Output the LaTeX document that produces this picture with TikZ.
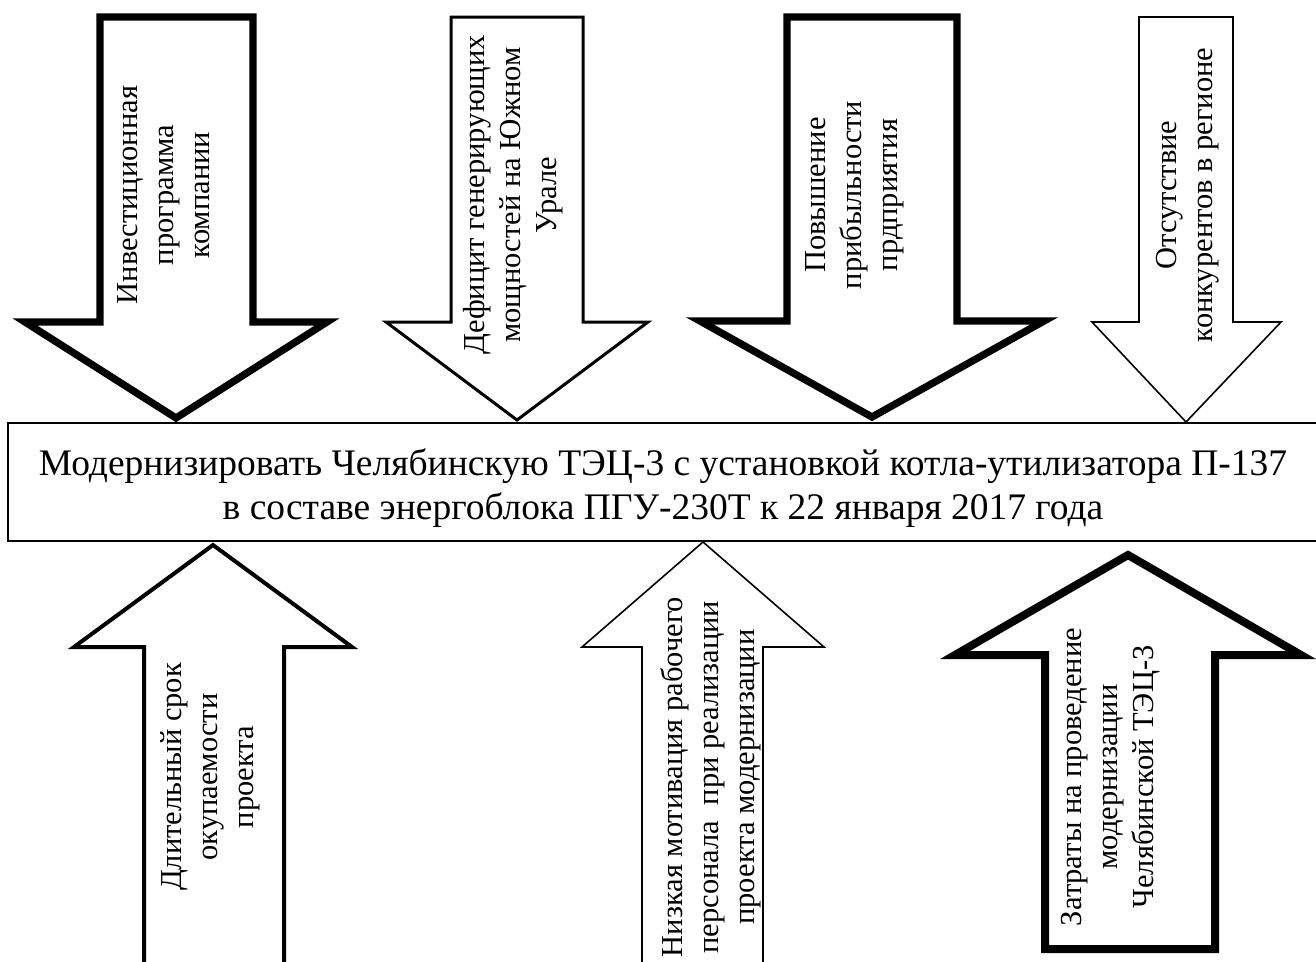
\documentclass[tikz,border=0pt]{standalone}
\usepackage{fontspec}
\setmainfont{Liberation Serif}
\tikzset{
  arrowshape/.style={draw=black, fill=white, miter limit=20},
  heavy/.style={arrowshape, line width=7.3pt},
  heavier/.style={arrowshape, line width=8pt},
  medium/.style={arrowshape, line width=4pt},
  lightish/.style={arrowshape, line width=3pt},
  light/.style={arrowshape, line width=1.6pt},
  vlabel/.style={rotate=90, align=center, inner sep=0pt, font=\fontsize{30.5}{36}\selectfont},
  goalbox/.style={draw=black, line width=2pt, fill=white, inner sep=0pt, align=center,
    minimum width=1310pt, minimum height=118pt, font=\fontsize{37.5}{44}\selectfont}
}
\begin{document}
\begin{tikzpicture}[x=1pt, y=-1pt]
\useasboundingbox (0,0) rectangle (1316,961);

% goal box
\node[goalbox] (goal) at (663,482) {\rule{0pt}{38pt}Модернизировать Челябинскую ТЭЦ-3 с установкой котла-утилизатора П-137\\в составе энергоблока ПГУ-230Т к 22 января 2017 года};

% top arrows (pointing down)
\coordinate (tip1) at (176,418);
\draw[heavy] (100,17) -- (253,17) -- (253,322) -- (327,322) -- (tip1) -- (25,322) -- (100,322) -- cycle;
\coordinate (tip2) at (517,420);
\draw[lightish] (451,17) -- (583,17) -- (583,322) -- (648,322) -- (tip2) -- (386,322) -- (451,322) -- cycle;
\coordinate (tip3) at (872,417);
\draw[heavy] (787,17) -- (957,17) -- (957,321) -- (1044,321) -- (tip3) -- (700,321) -- (787,321) -- cycle;
\coordinate (tip4) at (1186,422);
\draw[light] (1139,17) -- (1233,17) -- (1233,322) -- (1281,322) -- (tip4) -- (1092,322) -- (1139,322) -- cycle;

% bottom arrows (pointing up)
\coordinate (tip5) at (213,545);
\draw[medium] (144,1000) -- (144,647) -- (74,647) -- (tip5) -- (352,647) -- (284,647) -- (284,1000);
\coordinate (tip6) at (703,542);
\draw[light] (642,1000) -- (642,647) -- (582,647) -- (tip6) -- (824,647) -- (763,647) -- (763,1000);
\coordinate (tip7) at (1128,555);
\draw[heavier] (1045,949) -- (1045,655) -- (955,655) -- (tip7) -- (1301,655) -- (1215,655) -- (1215,949) -- cycle;

% labels
\node[vlabel] (t1) at (164,195) {Инвестиционная\\программа\\компании};
\node[vlabel] (t2) at (513,195) {Дефицит генерирующих\\мощностей на Южном\\Урале};
\node[vlabel] (t3) at (855,195) {Повышение\\прибыльности\\прдприятия};
\node[vlabel] (t4) at (1188,195) {Отсутствие\\конкурентов в регионе};
\node[vlabel] (t5) at (210,777) {Длительный срок\\окупаемости\\проекта};
\node[vlabel] (t6) at (711,777) {Низкая мотивация рабочего\\персонала\ \ при реализации\\проекта модернизации};
\node[vlabel] (t7) at (1111,777) {Затраты на проведение\\модернизации\\Челябинской ТЭЦ-3};
\end{tikzpicture}
\end{document}
